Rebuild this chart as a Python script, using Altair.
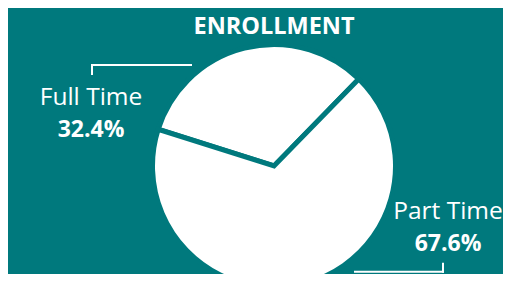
import altair as alt
import pandas as pd
import math

categories = ["Full Time", "Part Time"]
values = [32.4, 67.6]
value_labels = ["32.4%", "67.6%"]
title_text = "ENROLLMENT"

TEAL = "#00797d"
FONT = "Open Sans"
W, H = 495, 266
CX, CY, R = 266, 158, 119

start = math.radians(287.6)

df = pd.DataFrame({"category": categories, "value": values,
                   "label": value_labels, "order": [0, 1]})

pie = alt.Chart(df).mark_arc(fill="white", stroke=TEAL, strokeWidth=5,
                             outerRadius=R + 2.5).encode(
    theta=alt.Theta("value:Q", stack=True,
                    scale=alt.Scale(range=[start, start + 2 * math.pi])),
    order=alt.Order("order:Q"),
    x=alt.value(CX), y=alt.value(CY),
)

full = df[df.category == "Full Time"]
part = df[df.category == "Part Time"]

def names(d, x, y):
    return alt.Chart(d).mark_text(font=FONT, fontSize=24.5, color="white",
                                  align="center", baseline="alphabetic").encode(
        text="category:N", x=alt.value(x), y=alt.value(y))

def pcts(d, x, y):
    return alt.Chart(d).mark_text(font=FONT, fontSize=23, fontWeight="bold",
                                  color="white", align="center",
                                  baseline="alphabetic").encode(
        text="label:N", x=alt.value(x), y=alt.value(y))

title = alt.Chart(pd.DataFrame({"t": [title_text]})).mark_text(
    font=FONT, fontSize=23.5, fontWeight="bold", color="white",
    align="center", baseline="alphabetic").encode(
    text="t:N", x=alt.value(CX), y=alt.value(25.5))

def rule(x, x2, y, y2):
    return alt.Chart(df.head(1)).mark_rule(color="white", strokeWidth=2).encode(
        x=alt.value(x), x2=alt.value(x2), y=alt.value(y), y2=alt.value(y2))

rules = [
    rule(83, 184, 57, 57),
    rule(84, 84, 57, 67),
    rule(346, 436, 263.7, 263.7),
    rule(435, 435, 254.7, 264.7),
]

chart = alt.layer(pie, title, names(full, 83, 97), pcts(full, 83, 129.3),
                  names(part, 440, 211.3), pcts(part, 440, 242.7),
                  *rules).properties(
    width=W, height=H, autosize="none", padding=0, background=TEAL
).configure_view(stroke=None)

chart.save("out.html", embed_options={"renderer": "svg", "actions": False})
